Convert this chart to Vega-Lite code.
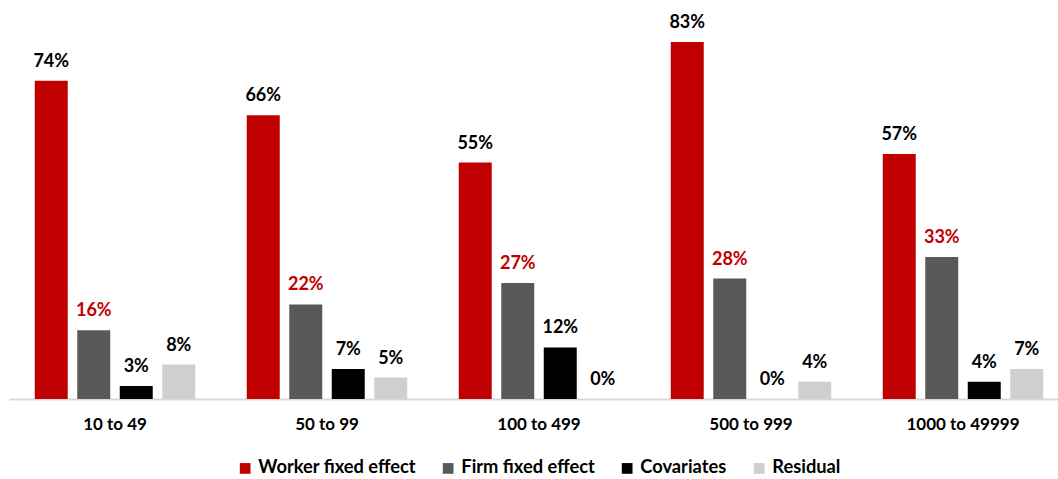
{
  "$schema": "https://vega.github.io/schema/vega-lite/v6.json",
  "width": 1049,
  "height": 387,
  "autosize": {"type": "none"},
  "padding": {"left": 9, "top": 12, "right": 0, "bottom": 80},
  "background": "#ffffff",
  "config": {
    "view": {"stroke": null},
    "font": "Lato",
    "text": {"font": "Lato"}
  },
  "data": {
    "values": [
      {"size": "10 to 49", "series": "Worker fixed effect", "share": 0.74},
      {"size": "10 to 49", "series": "Firm fixed effect", "share": 0.16},
      {"size": "10 to 49", "series": "Covariates", "share": 0.03},
      {"size": "10 to 49", "series": "Residual", "share": 0.08},
      {"size": "50 to 99", "series": "Worker fixed effect", "share": 0.66},
      {"size": "50 to 99", "series": "Firm fixed effect", "share": 0.22},
      {"size": "50 to 99", "series": "Covariates", "share": 0.07},
      {"size": "50 to 99", "series": "Residual", "share": 0.05},
      {"size": "100 to 499", "series": "Worker fixed effect", "share": 0.55},
      {"size": "100 to 499", "series": "Firm fixed effect", "share": 0.27},
      {"size": "100 to 499", "series": "Covariates", "share": 0.12},
      {"size": "100 to 499", "series": "Residual", "share": 0.0},
      {"size": "500 to 999", "series": "Worker fixed effect", "share": 0.83},
      {"size": "500 to 999", "series": "Firm fixed effect", "share": 0.28},
      {"size": "500 to 999", "series": "Covariates", "share": 0.0},
      {"size": "500 to 999", "series": "Residual", "share": 0.04},
      {"size": "1000 to 49999", "series": "Worker fixed effect", "share": 0.57},
      {"size": "1000 to 49999", "series": "Firm fixed effect", "share": 0.33},
      {"size": "1000 to 49999", "series": "Covariates", "share": 0.04},
      {"size": "1000 to 49999", "series": "Residual", "share": 0.07}
    ]
  },
  "encoding": {
    "x": {
      "field": "size",
      "type": "nominal",
      "sort": null,
      "scale": {"paddingInner": 0, "paddingOuter": 0, "range": [0, 1060]},
      "axis": {
        "title": null,
        "labelAngle": 0,
        "labelFont": "Lato",
        "labelFontSize": 17,
        "labelFontWeight": "bold",
        "labelColor": "#000000",
        "labelPadding": 17,
        "ticks": false,
        "domainColor": "#D9D9D9",
        "domainWidth": 2,
        "grid": false
      }
    },
    "xOffset": {
      "field": "series",
      "type": "nominal",
      "sort": ["Worker fixed effect", "Firm fixed effect", "Covariates", "Residual"],
      "scale": {"paddingInner": 0.224, "paddingOuter": 0.606}
    },
    "y": {
      "field": "share",
      "type": "quantitative",
      "scale": {"domain": [0, 0.9]},
      "axis": null
    }
  },
  "layer": [
    {
      "mark": {"type": "bar"},
      "encoding": {
        "color": {
          "field": "series",
          "type": "nominal",
          "scale": {
            "domain": ["Worker fixed effect", "Firm fixed effect", "Covariates", "Residual"],
            "range": ["#C00000", "#595959", "#000000", "#D0CECE"]
          },
          "legend": {
            "title": null,
            "orient": "none",
            "legendX": 227,
            "legendY": 447,
            "direction": "horizontal",
            "symbolType": "square",
            "symbolSize": 115,
            "symbolStrokeWidth": 0,
            "labelFont": "Lato",
            "labelFontSize": 18.3,
            "labelFontWeight": "bold",
            "labelColor": "#000000",
            "labelLimit": 300,
            "labelOffset": 4,
            "columnPadding": 23
          }
        }
      }
    },
    {
      "mark": {"type": "text", "baseline": "alphabetic", "dy": -14, "fontSize": 18, "fontWeight": "bold", "font": "Lato"},
      "encoding": {
        "text": {"field": "share", "type": "quantitative", "format": ".0%"},
        "color": {
          "condition": {"test": "datum.series === 'Firm fixed effect'", "value": "#C00000"},
          "value": "#000000"
        }
      }
    }
  ]
}
